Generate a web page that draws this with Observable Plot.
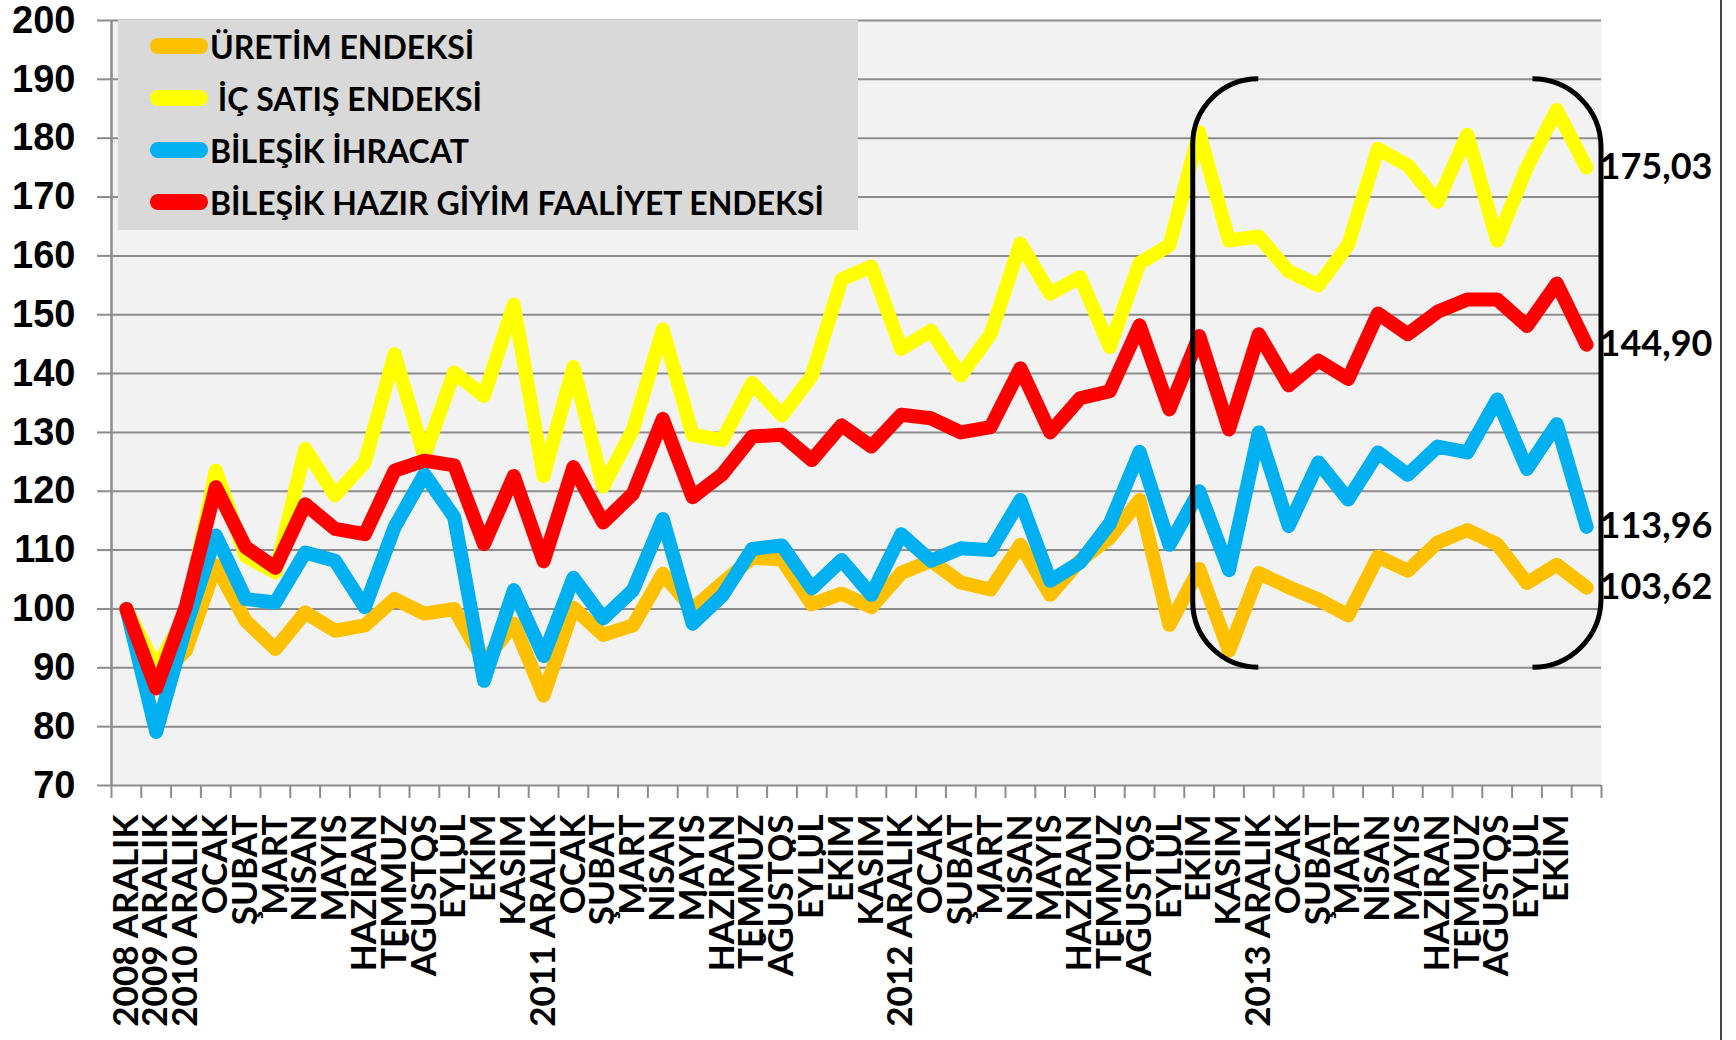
<!DOCTYPE html>
<html>
<head>
<meta charset="utf-8">
<script src="https://cdn.jsdelivr.net/npm/d3@7"></script>
<script src="https://cdn.jsdelivr.net/npm/@observablehq/plot@0.6"></script>
<style>
  html, body { margin: 0; padding: 0; background: #fff; }
  #wrap { position: relative; width: 1736px; height: 1040px; overflow: hidden; }
  #chart svg { display: block; }
  #legend { position: absolute; left: 118px; top: 20px; width: 740px; height: 210px; background: #D9D9D9;
            font-family: Lato, "Open Sans", sans-serif; font-weight: 700; font-size: 32px; color: #000; }
  .item { position: absolute; left: 32px; height: 40px; display: flex; align-items: center; white-space: pre; }
  .sw { width: 58px; height: 16px; border-radius: 8px; margin-right: 2px; flex: none; }
  #border { position: absolute; left: 1720px; top: 0; width: 2px; height: 1040px; background: #444; }
</style>
</head>
<body>
<div id="wrap"><div id="chart"></div><div id="legend"></div><div id="border"></div></div>
<script>
// ---- data ----
const labels = ["2008 ARALIK","2009 ARALIK","2010 ARALIK","OCAK","ŞUBAT","MART","NİSAN","MAYIS","HAZİRAN","TEMMUZ","AĞUSTOS","EYLÜL","EKİM","KASIM",
  "2011 ARALIK","OCAK","ŞUBAT","MART","NİSAN","MAYIS","HAZİRAN","TEMMUZ","AĞUSTOS","EYLÜL","EKİM","KASIM",
  "2012 ARALIK","OCAK","ŞUBAT","MART","NİSAN","MAYIS","HAZİRAN","TEMMUZ","AĞUSTOS","EYLÜL","EKİM","KASIM",
  "2013 ARALIK","OCAK","ŞUBAT","MART","NİSAN","MAYIS","HAZİRAN","TEMMUZ","AĞUSTOS","EYLÜL","EKİM",""];

const uretim = [100,88,93,107.4,98,93.2,99.4,96.3,97.2,101.7,
  99.2,100,91,97.5,85.3,100.2,95.6,97.2,106,100,
  104.4,108.7,108.4,100.8,102.6,100.3,106.1,108.2,104.5,103.3,
  110.9,102.4,108.2,112.1,118.5,97.3,106.8,92.9,106.1,103.7,
  101.6,98.9,108.9,106.5,111.3,113.4,111,104.4,107.5,103.62];

const icSatis = [100,90,99,123.5,109,106.2,127.2,119.3,124.9,143.3,
  126,140.2,136.2,151.7,122.6,141.1,120.8,130.5,147.5,129.6,
  128.7,138.4,132.9,139.6,156,158.2,144.2,147.3,139.7,146.7,
  162.1,153.6,156.4,144.5,158.8,161.8,181,162.6,163.3,157.4,
  155,161.9,178.2,175.4,169.2,180.6,162.6,175.1,184.8,175.03];

const ihracat = [100,79.1,97,112.5,101.7,101.1,109.6,108.2,100.3,113.9,
  122.9,115.6,87.8,103.2,92,105.3,98.4,103.2,115.3,97.5,
  102.3,110.2,110.8,103.5,108.3,102.4,112.7,108.2,110.3,110,
  118.5,104.8,107.9,114.5,126.7,110.9,120,106.6,130,114.1,
  124.9,118.6,126.6,122.8,127.6,126.6,135.6,123.8,131.4,113.96];

const hazirGiyim = [100,86.5,100.5,120.7,110.5,107,117.8,113.6,112.7,123.5,
  125.2,124.4,111,122.6,108.1,124.1,114.7,119.6,132.3,119,
  122.9,129.3,129.6,125.3,131.2,127.6,133,132.4,130,130.9,
  140.9,130,135.8,137,148.2,133.9,146.4,130.5,146.7,138,
  142.2,139.1,150.2,146.7,150.5,152.6,152.6,148.1,155.3,144.9];

const seriesNames = ["ÜRETİM ENDEKSİ", " İÇ SATIŞ ENDEKSİ", "BİLEŞİK İHRACAT", "BİLEŞİK HAZIR GİYİM FAALİYET ENDEKSİ"];
const seriesColors = ["#FFC000", "#FFFF00", "#00B0F0", "#FF0000"];
const seriesValues = [uretim, icSatis, ihracat, hazirGiyim];

const yTicks = [70, 80, 90, 100, 110, 120, 130, 140, 150, 160, 170, 180, 190, 200];

// bracket annotations (category index / index value ranges)
const brackets = [
  {side: "left",  x: 35.8, xEnd: 38.0, top: 190, bottom: 90},
  {side: "right", x: 49.5, xEnd: 47.2, top: 190, bottom: 90}
];

// ---- build ----
const n = labels.length;
const idx = d3.range(n);
const boundaries = d3.range(n + 1).map(i => i - 0.5);
const fmt = v => d3.format(".2f")(v).replace(".", ",");
const lastPoints = seriesValues.map((vals, s) => ({i: n - 1, v: vals[n - 1], s}));

const gray = "#8c8c8c";

function bracketMark(index, scales) {
  const x = scales.x, y = scales.y;
  const g = d3.create("svg:g").attr("fill", "none").attr("stroke", "#000").attr("stroke-width", 5);
  for (const b of brackets) {
    const xv = x(b.x), xe = x(b.xEnd), yt = y(b.top), yb = y(b.bottom);
    const r = Math.abs(xe - xv);
    const sweep = b.side === "left" ? 0 : 1;
    const d = `M${xe},${yt} A${r},${r} 0 0 ${sweep} ${xv},${yt + r} L${xv},${yb - r} A${r},${r} 0 0 ${sweep} ${xe},${yb}`;
    g.append("path").attr("d", d);
  }
  return g.node();
}

const lineMarks = seriesValues.map((vals, s) =>
  Plot.line(idx, {x: d => d, y: d => vals[d], stroke: seriesColors[s], strokeWidth: 14,
                  strokeLinejoin: "round", strokeLinecap: "round"}));

const chart = Plot.plot({
  width: 1736, height: 1040,
  marginLeft: 111, marginRight: 135, marginTop: 20, marginBottom: 255,
  x: {domain: [-0.5, n - 0.5]},
  y: {domain: [70, 200]},
  style: {fontFamily: "Lato, 'Open Sans', sans-serif", background: "transparent", overflow: "visible"},
  marks: [
    Plot.frame({fill: "#F2F2F2", stroke: "none"}),
    Plot.gridY(yTicks, {stroke: gray, strokeOpacity: 1, strokeWidth: 2}),
    Plot.ruleX([-0.5], {stroke: gray, strokeWidth: 2.5}),
    Plot.axisY(yTicks, {tickSize: 14, tickPadding: 22, stroke: gray, strokeWidth: 2, color: "#000",
                        fontSize: 38, fontWeight: 700, fontFamily: "'Liberation Sans', Arial, sans-serif", label: null}),
    Plot.axisX(boundaries, {tickSize: 13, tickFormat: () => "", stroke: gray, strokeWidth: 2, label: null}),
    Plot.axisX(idx, {tickSize: 0, tickPadding: 29, tickRotate: -90, tickFormat: i => labels[i], color: "#000",
                     fontSize: 35, fontWeight: 700, label: null}),
    ...lineMarks,
    bracketMark,
    Plot.text(lastPoints, {x: "i", y: "v", text: d => fmt(d.v), dx: 13, textAnchor: "start",
                           fontSize: 36, fontWeight: 700, fill: "#000"})
  ]
});
document.getElementById("chart").appendChild(chart);

// legend
const legend = d3.select("#legend");
const rowCenters = [26, 78, 130, 182];
seriesNames.forEach((name, s) => {
  const it = legend.append("div").attr("class", "item").style("top", (rowCenters[s] - 20) + "px");
  it.append("div").attr("class", "sw").style("background", seriesColors[s]);
  it.append("span").text(name);
});
</script>
</body>
</html>
